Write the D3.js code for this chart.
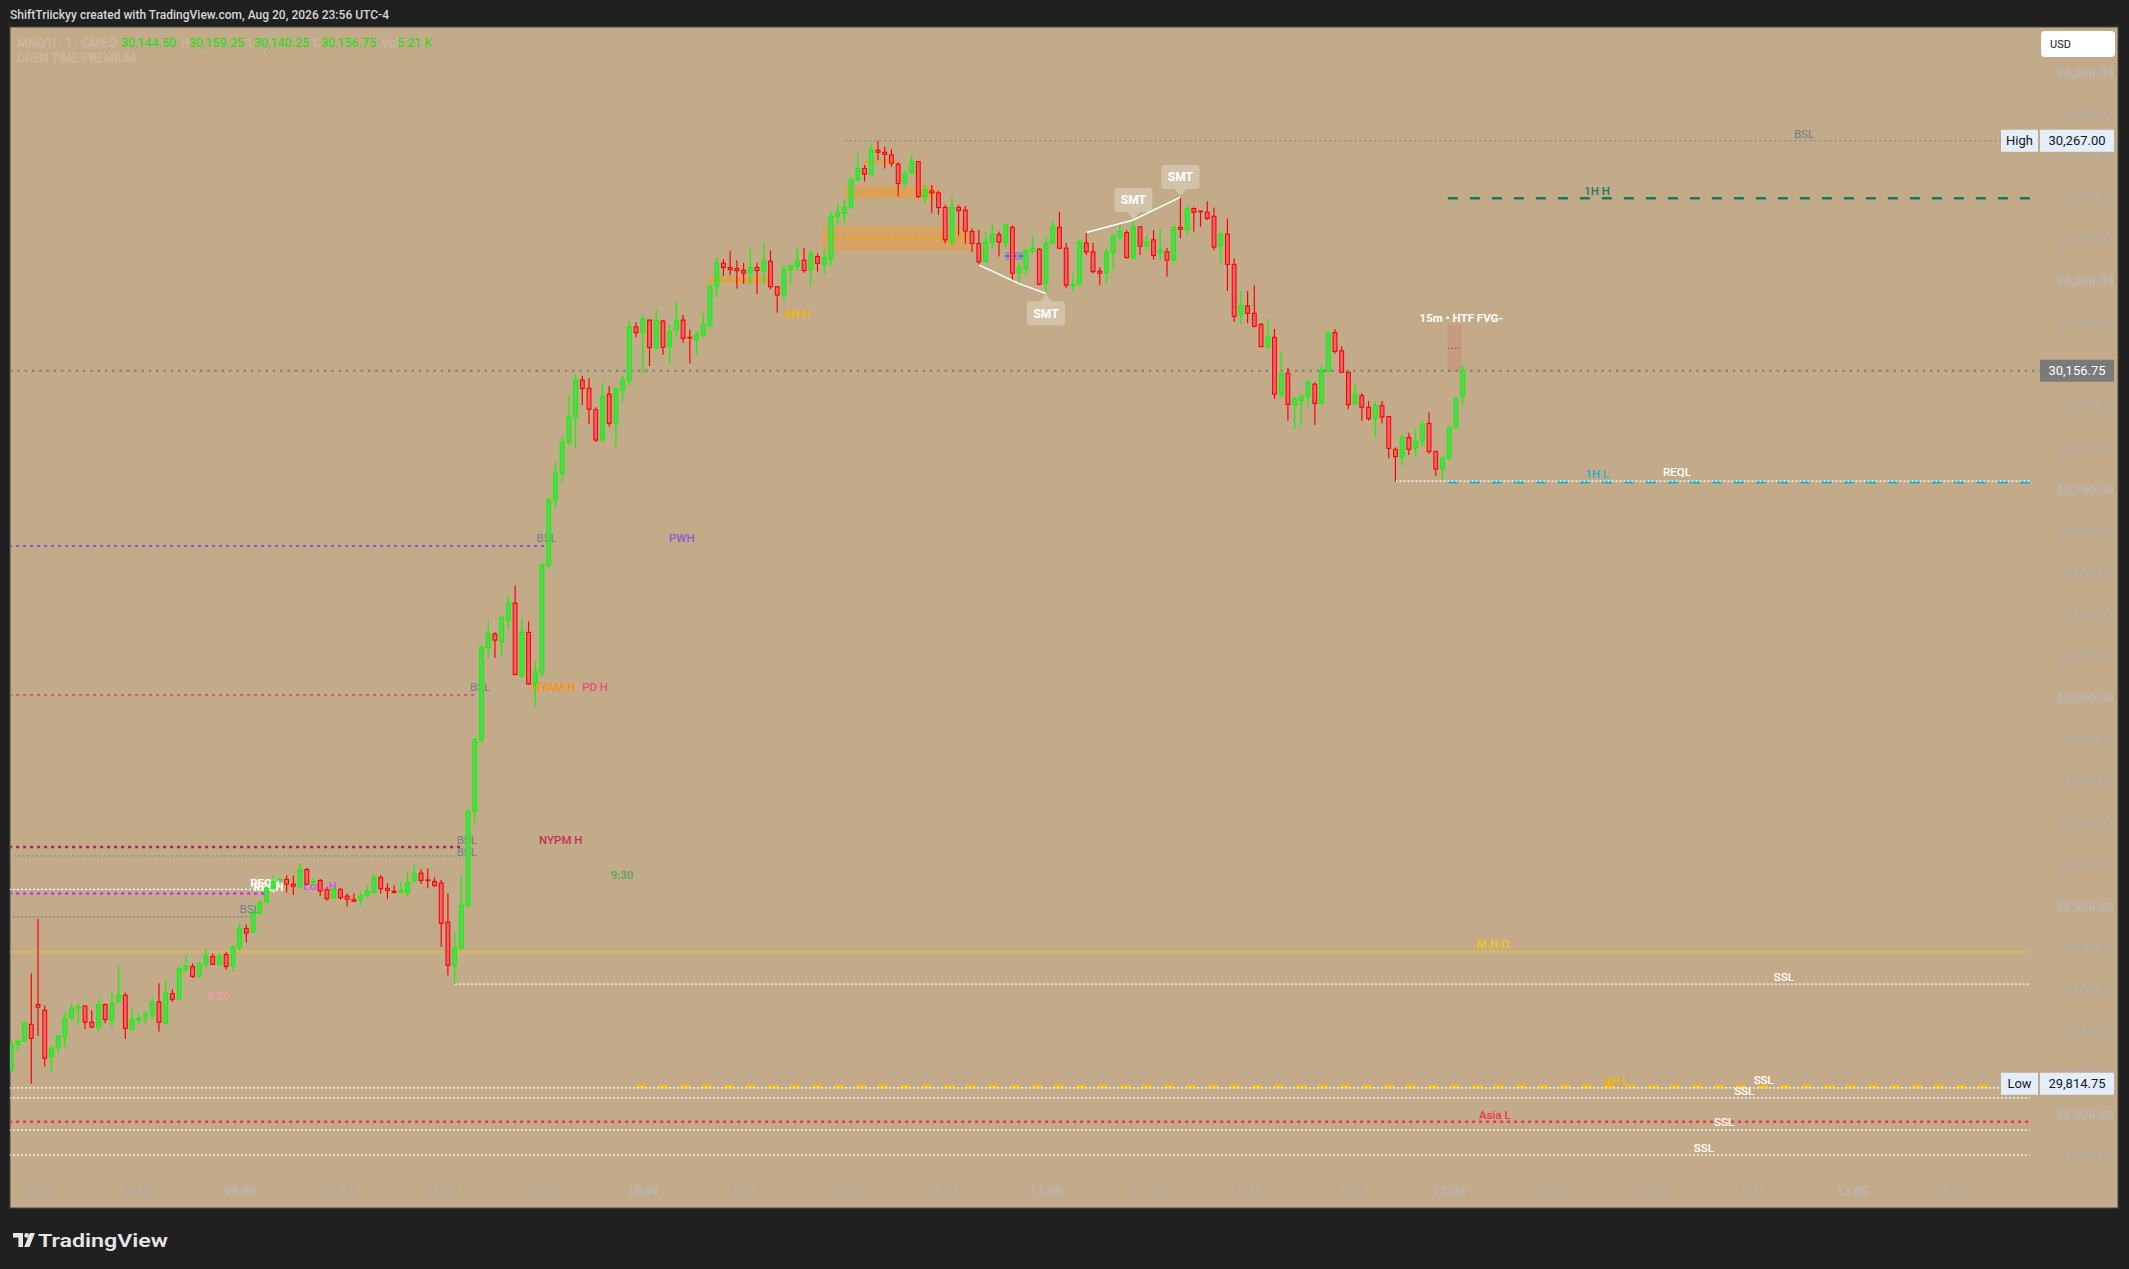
<!DOCTYPE html>
<html><head><meta charset="utf-8">
<script src="https://cdn.jsdelivr.net/npm/d3@7"></script>
<style>html,body{margin:0;padding:0;background:#202020;overflow:hidden}</style>
</head><body>
<svg id="c" width="2129" height="1269"></svg>
<script>
// ---------- DATA ----------
// 1-minute candles, first candle = 08:26 (minute -4 relative to 08:30)
const firstMinute = -4;
const opens = [
29821.25,29833.75,29835.25,29843.25,29852.75,29850,29827.75,29832.5,29837.25,29846.5,29851,29852,29844.25,29841.75,
29852.75,29845,29854.25,29857.25,29840.75,29845.25,29847,29848,29854,29843.75,
29858,29855.25,29870,29871,29866.25,29872,29875.75,29872,29876.75,29871.5,
29880.25,29889.25,29887.5,29896.75,29902,29908.5,29912.5,29912.75,29910.5,29909,
29917.5,29911.5,29912.25,29907.75,29904.25,29908,29904.75,29903,29903,29905,
29906.5,29913.75,29908.5,29907,29906.5,29906.5,29912,29915.75,29912.5,29911.75,
29911,29892.25,29871.5,29879.75,29900.25,29945.5,29979.75,30024,30030.5,30027,
30037,30045.25,30010.5,30031.25,30006.5,30012,30063.25,30094.75,30107.5,30122.5,
30134.5,30152.25,30148.25,30138,30123.5,30145.5,30131.5,30147.5,30152.25,30177.75,
30175,30181,30167.5,30180.5,30168.25,30176.5,30181,30172.75,30171.5,30173.5,
30178.25,30197.5,30208.25,30206.25,30205.75,30205,30203.75,30206.25,30204.5,30209.25,
30197,30193,30205.25,30206.75,30209.75,30205.25,30211.5,30207.75,30210.5,30230.75,
30232.25,30235,30248.5,30253.75,30251,30262.5,30261.5,30260.25,30255.75,30246.5,
30251.5,30257,30240.25,30243,30242,30235,30219,30235,30233.75,30223.5,
30217.75,30209,30218.25,30222,30218,30225.5,30203.75,30205.75,30214,30215,
30198.5,30217.75,30225.5,30215.5,30197.5,30198.25,30218,30213.75,30204.5,30203.75,
30213.5,30220.75,30223,30211,30225.75,30216.75,30219.5,30213.5,30213.75,30210,
30225.5,30224.25,30234.5,30233.25,30232.75,30230.75,30216.5,30222.25,30207.75,30183.5,
30187.75,30184.25,30179,30168.25,30172.75,30145.5,30155.5,30140.5,30142.5,30144.25,
30150.25,30141,30156.5,30175,30166.25,30156,30141,30144.75,30139.25,30134,
30140,30134.75,30119,30115.25,30124.75,30119.5,30122.75,30131.5,30118,30109.5,
30114.75,30129.5,30144.5];
const highs = [
29835.75,29836,29844.5,29867.75,29893.75,29852.25,29832.75,29838,29849.25,29853.75,29853.25,29852.25,29850,29855.75,
29853.25,29858.75,29871.5,29858.5,29851,29848.5,29849.75,29856.25,29863,29864.5,
29860,29871,29876.75,29872.5,29873.25,29879.5,29877.25,29877.25,29878,29881.25,
29891.75,29891,29898,29902.5,29909.5,29914.5,29913.5,29914.75,29914.5,29920.5,
29918.25,29913.75,29913,29909.25,29909.25,29908.75,29906,29906,29906.5,29910,
29915.25,29914.75,29911,29910,29911.75,29916.5,29920,29917.5,29918,29913.75,
29912.5,29906,29887.75,29914.5,29946.5,29980.75,30025,30036.5,30031.25,30039.25,
30049,30053.75,30037.75,30036.5,30017.5,30064.5,30095.75,30113,30125.5,30145.25,
30155.25,30154.25,30153.25,30139.25,30151.25,30149.25,30149.25,30154.25,30180.75,30180,
30183.5,30181.25,30186,30181,30179,30189.75,30183.5,30176.5,30175.5,30184.5,
30197.75,30211,30210.25,30214.25,30209.75,30208.5,30215.5,30208.5,30218.5,30214.5,
30197.25,30207.5,30207.5,30215.75,30215.5,30214.5,30213,30214.5,30233.25,30237.25,
30239,30249.5,30261,30255.5,30265.75,30267,30264.25,30263,30256.75,30253,
30260.25,30257.25,30245.75,30245.75,30243,30236.25,30240.25,30236.25,30235.75,30225,
30224.25,30223.5,30227.5,30223.5,30227.5,30226.5,30208.25,30215,30221.25,30215.5,
30221.25,30229,30233,30218,30203.5,30219.5,30223,30218,30206.5,30215.5,
30222.5,30227.5,30224.25,30229,30226,30221.75,30224.25,30225,30215.75,30226,
30240,30236.25,30235,30233.5,30238,30235,30223.5,30229.75,30210.5,30195,
30195,30197.75,30179.5,30181.5,30176.75,30166,30158,30144.25,30145,30152.25,
30151.25,30159.25,30175.5,30176.75,30168.5,30156.25,30150.25,30146,30142.25,30142,
30142.25,30135,30120,30126,30127,30128.25,30132.75,30136.75,30118,30115.75,
30130,30143.75,30159.25];
const lows = [
29821,29830.5,29835,29814.75,29837.75,29823,29820.25,29829.25,29832.25,29845.25,29843.25,29841,29841.25,29840,
29843.75,29841.75,29854,29836.25,29840.25,29843,29843.5,29845.25,29839.75,29843.5,
29854,29855,29868,29865.5,29866,29870.5,29871.75,29871,29869.5,29868.5,
29878.5,29882.5,29887,29895.75,29901.5,29907.75,29911,29906.5,29905.25,29908.5,
29910,29910,29904.75,29902.5,29903.5,29903,29899.75,29902,29900.25,29904.25,
29906,29906,29903.25,29906,29906.5,29904.5,29911.75,29910.5,29908.5,29909.25,
29880.5,29866.75,29862.5,29879.5,29899.5,29940,29978,30019,30019,30020,
30032.5,30011,30009,30006,29995.5,30010,30062.5,30090.75,30103.25,30121,
30119,30140.25,30131,30122.5,30122.5,30130,30120,30141.75,30150,30172.75,
30155.5,30159,30167.25,30164.25,30159.75,30173,30170,30160.25,30164.25,30173,
30178,30191.75,30202.25,30202.5,30196,30198.5,30198.25,30193.5,30198.5,30195.75,
30184.5,30190.25,30198.5,30204.75,30203.75,30197.5,30204.25,30203,30207,30226.5,
30227.5,30234.5,30247.5,30247.5,30250.5,30257.75,30253.75,30254.5,30240.25,30245,
30251,30239.5,30237,30232.25,30231.5,30217.75,30216.5,30221.75,30217.75,30213.75,
30207.5,30208.5,30215.5,30211.5,30215.5,30200.25,30198.5,30202.5,30213,30197.75,
30193.75,30217.5,30215,30196.25,30194.75,30197.75,30212.25,30203.5,30197.75,30198.5,
30205,30219.5,30210.5,30210,30212.25,30214.5,30210,30209.75,30201.75,30208,
30220.25,30221.75,30223.5,30225.75,30229,30214.5,30208.25,30195,30180.25,30178.75,
30179.5,30177.5,30168.25,30167.5,30143.25,30143.75,30132.75,30128.5,30130.5,30139.5,
30130.75,30141,30156.25,30165,30155.75,30138.25,30140.5,30132.75,30132.75,30125,
30131.5,30114.75,30103.5,30111,30116.25,30115.25,30120.25,30116.75,30106.25,30104.5,
30114,30128.75,30140.25];
const closes = [
29833.25,29835,29843.75,29836.5,29851.5,29827,29831.75,29837.75,29846,29851,29851.5,29844.25,29842,29852.75,
29845.5,29853.25,29857.25,29841.25,29845.5,29846,29848.25,29853.75,29844.25,29858,
29855.25,29870,29871.25,29866.25,29872.25,29875.75,29872,29875.75,29871,29880.25,
29889.25,29887,29896.5,29901.5,29908.5,29911.75,29912.75,29910.5,29909.5,29917.5,
29910.5,29911.75,29907.25,29903.5,29908,29904,29903.25,29902.25,29904.75,29907,
29913.75,29908.25,29907.5,29906.5,29907.5,29911.25,29915.25,29912.25,29912.25,29909.75,
29891.75,29871.5,29879.75,29900.25,29945.5,29979.75,30024,30030.5,30027.5,30038.25,
30045.25,30011,30031.25,30006.5,30012.5,30063.5,30094.75,30107.5,30122.5,30134.5,
30152.25,30148.25,30138.25,30123.5,30144.5,30131.5,30147.75,30152.25,30177.5,30175,
30181.5,30167.75,30181,30168,30175.5,30181,30172.25,30172.5,30174,30179,
30197.5,30208.25,30206.25,30205.25,30204.75,30203.5,30206.25,30204.75,30209,30197,
30193,30205.25,30207,30209.75,30204.75,30212.5,30208.25,30211,30230.75,30232.5,
30235,30248.5,30253.75,30251,30262.5,30261.5,30260.5,30256.25,30246.5,30251,
30257,30240.25,30243.5,30242,30235,30219.5,30235,30233.5,30223.75,30217.75,
30209,30218.5,30222,30218.5,30226.5,30203.5,30206.25,30214.5,30215.5,30198.25,
30217.75,30225.75,30215.5,30197.75,30198,30218.5,30213.75,30204.25,30203.5,30213.5,
30221.25,30223.5,30211,30225.75,30216.5,30218.5,30212,30214.5,30209.75,30225.5,
30224.5,30234.5,30232.75,30233,30229.75,30216,30222.25,30207.75,30182.75,30187.75,
30184.25,30178,30168.25,30172.75,30145.5,30155,30140.5,30143,30144.5,30151.25,
30141,30157,30174.75,30166,30156,30140.5,30145.5,30139.25,30133.75,30140,
30134.5,30119.5,30115.5,30124.75,30119,30122.75,30131,30118,30109.5,30114.75,
30129.5,30143.5,30156.75];

// axis ticks
const priceTicks = [29780,29800,29820,29840,29860,29880,29900,29920,29940,29960,29980,30000,30020,30040,30060,30080,30100,30120,30140,30160,30180,30200,30220,30240,30260,30280,30300];
const timeTickMinutes = [0,15,30,45,60,75,90,105,120,135,150,165,180,195,210,225,240,255,270,285];
const timeTickLabels = ["08:30","08:45","09:00","09:15","09:30","09:45","10:00","10:15","10:30","10:45","11:00","11:15","11:30","11:45","12:00","12:15","12:30","12:45","13:00","13:15"];

// horizontal levels (minutes relative to 08:30)
const levelKeys   = ["bslHigh","h1High","h1Low","reql","pwh","pdh","nypmh","bslA","reqh","lonh","bslB","mno","sslA","h4Low","sslB","sslC","asiaL","sslD","sslE"];
const levelPrices = [30267,30239.5,30103.25,30103.75,30072.75,30001.25,29928.25,29924,29908,29906,29894.75,29878,29862.5,29813.25,29812.75,29808,29796.5,29792.5,29780.5];
const levelStart  = [120,209.8,209.8,202,-4.3,-4.3,-4.3,-4.3,-4.3,-4.3,-4.3,-4.3,62,89,-4.3,-4.3,-4.3,-4.3,-4.3];
const levelEnd    = [296.4,296.4,296.4,296.4,75.4,65.5,63,63,34.5,34,31.5,296.4,296.4,291,296.4,296.4,296.4,296.4,296.4];

// zones
const zoneKeys   = ["ob","ob","ob","ob","htf","blue"];
const zoneStart  = [99.8,116.8,120.1,123,209.8,143.9];
const zoneEnd    = [108.6,138.8,133.8,128,211.9,146.6];
const zoneTop    = [30202,30226,30245.75,30257.5,30178.75,30213.75];
const zoneBottom = [30198.5,30214.25,30239,30256.25,30156.25,30209.75];

// text labels
const labelTexts   = ["BSL","1H H","1H L","REQL","15m • HTF FVG-","4H H","PWH","BSL","BSL","NYAM H","PD H","NYPM H","BSL","BSL","9:30","REQH","REQH","Lon. H","BSL","8:30","M.N.O.","SSL","4H L","SSL","SSL","Asia L","SSL","SSL"];
const labelKeys    = ["bsl","h1High","h1Low","white","whiteB","h4","pwh","bsl","bsl","nyam","pdh","nypm","bsl","bsl","t930","whiteB","whiteB","lon","bsl","t830","mno","white","h4","white","white","asia","white","white"];
const labelMinutes = [262.8,232,232,243.9,211.8,112.9,95.8,75.7,65.8,76.8,82.9,77.8,63.8,63.8,86.9,33.8,34.3,42,31.5,26.8,216.7,259.8,234.8,256.8,253.9,216.8,250.9,247.9];
const labelPrices  = [30270.3,30242.9,30107.2,30108,30182,30184,30076.5,30076.5,30005,30005,30005,29931.6,29931.6,29926,29914.9,29911,29909,29909.6,29898.6,29856.8,29881.8,29865.9,29816.1,29816.5,29811.3,29800,29796.4,29783.9];

// SMT divergences (candle minutes)
const smtLowMinutes  = [140,146,150];
const smtHighMinutes = [156,163,170];

// ---------- DRAW ----------
const W = 2129, H = 1269;
const FONT = "Roboto, 'Liberation Sans', Arial, sans-serif";
const svg = d3.select("#c");
const x = d3.scaleLinear().domain([0, 285]).range([38, 38 + 285 * 6.72]);
const y = d3.scaleLinear().domain([29780, 30300]).range([1156.2, 72]);
const idx = i => firstMinute + i;
const candles = opens.map((o, i) => ({m: idx(i), o, h: highs[i], l: lows[i], c: closes[i]}));

svg.append("rect").attr("width", W).attr("height", H).attr("fill", "#202020");
svg.append("rect").attr("x", 10).attr("y", 27).attr("width", 2108).attr("height", 1181)
  .attr("fill", "#c3ab8a").attr("stroke", "#4a4a4a").attr("stroke-width", 1);

svg.append("defs").append("clipPath").attr("id", "pc")
  .append("rect").attr("x", 10).attr("y", 27).attr("width", 2108).attr("height", 1181);
const plot = svg.append("g").attr("clip-path", "url(#pc)");

// header
svg.append("text").attr("x", 10).attr("y", 14).attr("dominant-baseline", "central")
  .attr("fill", "#d6d6d6").attr("font-family", FONT).attr("font-size", 13).attr("font-weight", 500)
  .attr("textLength", 379).attr("lengthAdjust", "spacingAndGlyphs")
  .text("ShiftTriickyy created with TradingView.com, Aug 20, 2026 23:56 UTC-4");

// legend
const faded = "#cdbca4";
const leg = [
  {t: "MNQ1! · 1 · CME", x: 17, c: faded},
  {t: "O", x: 109, c: faded}, {t: "30,144.50", x: 121, c: "#12e012"},
  {t: "H", x: 181, c: faded}, {t: "30,159.25", x: 189, c: "#12e012"},
  {t: "L", x: 248, c: faded}, {t: "30,140.25", x: 254, c: "#12e012"},
  {t: "C", x: 313, c: faded}, {t: "30,156.75", x: 321, c: "#12e012"},
  {t: "Vol", x: 381, c: faded}, {t: "5.21 K", x: 397, c: "#12e012"}
];
leg.forEach(d => svg.append("text").attr("x", d.x).attr("y", 42).attr("dominant-baseline", "central")
  .attr("font-family", FONT).attr("font-size", 12.5).attr("fill", d.c).text(d.t));
svg.append("text").attr("x", 17).attr("y", 58).attr("dominant-baseline", "central")
  .attr("font-family", FONT).attr("font-size", 12).attr("fill", faded).text("DGEN TIME PREMIUM");

// zones
const zoneStyle = {
  ob:   {fill: "rgba(255,150,20,0.33)", mid: "#ff9800", dash: "5,4", w: 1.5},
  htf:  {fill: "rgba(215,95,95,0.22)",  mid: "#6e5a7a", dash: "1.5,2", w: 1},
  blue: {fill: "rgba(95,115,215,0.38)", mid: "#2962ff", dash: "4,3", w: 1.5}
};
zoneKeys.forEach((k, i) => {
  const s = zoneStyle[k];
  plot.append("rect").attr("x", x(zoneStart[i])).attr("width", x(zoneEnd[i]) - x(zoneStart[i]))
    .attr("y", y(zoneTop[i])).attr("height", y(zoneBottom[i]) - y(zoneTop[i])).attr("fill", s.fill);
  const ym = y((zoneTop[i] + zoneBottom[i]) / 2);
  plot.append("line").attr("x1", x(zoneStart[i])).attr("x2", x(zoneEnd[i])).attr("y1", ym).attr("y2", ym)
    .attr("stroke", s.mid).attr("stroke-width", s.w).attr("stroke-dasharray", s.dash);
});

// levels
const levelStyle = {
  bslHigh: {c: "#6f7fa3", w: 1, d: "2,3"},
  h1High:  {c: "#167a66", w: 2.5, d: "10,12"},
  h1Low:   {c: "#10b6d0", w: 2.5, d: "10,12"},
  reql:    {c: "#ffffff", w: 1.2, d: "2,2"},
  pwh:     {c: "#7650d8", w: 1.8, d: "3,4"},
  pdh:     {c: "#e0457b", w: 1.8, d: "3,4"},
  nypmh:   {c: "#c2185b", w: 2.5, d: "3,4"},
  bslA:    {c: "#6f7fa3", w: 1, d: "2,2.5"},
  reqh:    {c: "#ffffff", w: 1.2, d: "2,2"},
  lonh:    {c: "#cc2bff", w: 2.5, d: "3,4"},
  bslB:    {c: "#707880", w: 1, d: "2,2"},
  mno:     {c: "#ffd600", w: 1.2, d: "2,2"},
  sslA:    {c: "#ffffff", w: 1.2, d: "2,2"},
  h4Low:   {c: "#ffbf00", w: 3, d: "10,12"},
  sslB:    {c: "#ffffff", w: 1.2, d: "2,2"},
  sslC:    {c: "#ffffff", w: 1.2, d: "2,2"},
  asiaL:   {c: "#f23645", w: 2.5, d: "3,4"},
  sslD:    {c: "#ffffff", w: 1.2, d: "2,2"},
  sslE:    {c: "#ffffff", w: 1.2, d: "2,2"}
};
levelKeys.forEach((k, i) => {
  const s = levelStyle[k];
  const yy = y(levelPrices[i]);
  plot.append("line").attr("x1", x(levelStart[i])).attr("x2", x(levelEnd[i])).attr("y1", yy).attr("y2", yy)
    .attr("stroke", s.c).attr("stroke-width", s.w).attr("stroke-dasharray", s.d);
});
// last price line
const lastClose = closes[closes.length - 1];
plot.append("line").attr("x1", 10).attr("x2", 2040).attr("y1", y(lastClose)).attr("y2", y(lastClose))
  .attr("stroke", "#7e7e7e").attr("stroke-width", 2).attr("stroke-dasharray", "2.5,4.8");

// labels
const labelStyle = {
  bsl: {c: "#6f7c92", b: 400}, h1High: {c: "#177a64", b: 500}, h1Low: {c: "#19b4cf", b: 500},
  white: {c: "#ffffff", b: 500}, whiteB: {c: "#ffffff", b: 700}, h4: {c: "#f7b500", b: 600},
  pwh: {c: "#8c5ccf", b: 500}, nyam: {c: "#ff9100", b: 500}, pdh: {c: "#e64d78", b: 500},
  nypm: {c: "#c0305c", b: 500}, t930: {c: "#56a656", b: 500}, lon: {c: "#cc55e6", b: 500},
  t830: {c: "#e89ea6", b: 500}, mno: {c: "#f2c21b", b: 600}, asia: {c: "#f23645", b: 500}
};
labelTexts.forEach((t, i) => {
  const s = labelStyle[labelKeys[i]];
  plot.append("text").attr("x", x(labelMinutes[i])).attr("y", y(labelPrices[i]))
    .attr("text-anchor", "middle").attr("dominant-baseline", "central")
    .attr("font-family", FONT).attr("font-size", 11.5).attr("font-weight", s.b).attr("fill", s.c).text(t);
});

// candles
const UP = "#00ff00", DN = "#ff0000", UPF = "#66cc5a", DNF = "#f2636b";
const cg = plot.append("g");
cg.selectAll("line.w").data(candles).join("line")
  .attr("x1", d => x(d.m)).attr("x2", d => x(d.m)).attr("y1", d => y(d.h)).attr("y2", d => y(d.l))
  .attr("stroke", d => d.c >= d.o ? UP : DN).attr("stroke-width", 1.2);
cg.selectAll("rect.b").data(candles).join("rect")
  .attr("x", d => x(d.m) - 1.9).attr("width", 3.8)
  .attr("y", d => y(Math.max(d.o, d.c)))
  .attr("height", d => Math.max(0.6, Math.abs(y(d.o) - y(d.c))))
  .attr("fill", d => d.c >= d.o ? UPF : DNF)
  .attr("stroke", d => d.c >= d.o ? UP : DN).attr("stroke-width", 1.1);

// SMT lines + labels
const line = d3.line().x(d => x(d[0])).y(d => y(d[1]));
const lowPts = smtLowMinutes.map(m => [m, lows[m - firstMinute]]);
const highPts = smtHighMinutes.map(m => [m, highs[m - firstMinute]]);
plot.append("path").attr("d", line(lowPts)).attr("fill", "none").attr("stroke", "#ffffff").attr("stroke-width", 1.5);
plot.append("path").attr("d", line(highPts)).attr("fill", "none").attr("stroke", "#ffffff").attr("stroke-width", 1.5);
function smtLabel(m, p, below) {
  const cx = x(m), ty = y(p);
  const g = plot.append("g");
  const bw = 38, bh = 24, tri = 8;
  const by = below ? ty + tri : ty - tri - bh;
  const fill = "rgba(255,255,255,0.28)";
  g.append("rect").attr("x", cx - bw / 2).attr("y", by).attr("width", bw).attr("height", bh).attr("rx", 3).attr("fill", fill);
  const tp = below ? [[cx, ty + 1], [cx - 6, ty + tri], [cx + 6, ty + tri]] : [[cx, ty - 1], [cx - 6, ty - tri], [cx + 6, ty - tri]];
  g.append("path").attr("d", "M" + tp.map(q => q.join(",")).join("L") + "Z").attr("fill", fill);
  g.append("text").attr("x", cx).attr("y", by + bh / 2).attr("text-anchor", "middle").attr("dominant-baseline", "central")
    .attr("font-family", FONT).attr("font-size", 12).attr("font-weight", 700).attr("fill", "#ffffff").text("SMT");
}
smtLabel(lowPts[2][0], lowPts[2][1], true);
smtLabel(highPts[1][0], highPts[1][1], false);
smtLabel(highPts[2][0], highPts[2][1], false);

// price axis
const pa = svg.append("g").attr("transform", "translate(2114,0)")
  .call(d3.axisLeft(y).tickValues(priceTicks).tickSize(0).tickPadding(0).tickFormat(d3.format(",.2f")));
pa.select(".domain").remove();
pa.selectAll("text").attr("font-family", FONT).attr("font-size", 12.5)
  .attr("fill", d => d % 100 === 0 ? "#b9b6b3" : "#b0aca6")
  .attr("font-weight", d => d % 100 === 0 ? 700 : 400);

// time axis
const ta = svg.append("g").attr("transform", "translate(0,1186)")
  .call(d3.axisBottom(x).tickValues(timeTickMinutes).tickSize(0).tickPadding(0).tickFormat((d, i) => timeTickLabels[i]));
ta.select(".domain").remove();
ta.selectAll("text").attr("font-family", FONT).attr("font-size", 12.5)
  .attr("fill", (d, i) => timeTickLabels[i].endsWith(":00") ? "#b9b6b3" : "#b0aca6")
  .attr("font-weight", (d, i) => timeTickLabels[i].endsWith(":00") ? 700 : 400);

// USD box
svg.append("rect").attr("x", 2041).attr("y", 31).attr("width", 74).attr("height", 26).attr("rx", 4).attr("fill", "#ffffff");
svg.append("text").attr("x", 2050).attr("y", 44).attr("dominant-baseline", "central").attr("font-family", FONT)
  .attr("font-size", 11).attr("fill", "#131722").text("USD");

// High / Low / Last badges
const hi = d3.max(highs), lo = d3.min(lows);
function badge(label, val, bg, fg) {
  const yy = y(val);
  if (label) {
    svg.append("rect").attr("x", 2001).attr("y", yy - 11).attr("width", 37).attr("height", 22).attr("fill", bg);
    svg.append("text").attr("x", 2019.5).attr("y", yy).attr("text-anchor", "middle").attr("dominant-baseline", "central")
      .attr("font-family", FONT).attr("font-size", 13).attr("fill", fg).text(label);
  }
  svg.append("rect").attr("x", 2040).attr("y", yy - 11).attr("width", 74).attr("height", 22).attr("fill", bg);
  svg.append("text").attr("x", 2077).attr("y", yy).attr("text-anchor", "middle").attr("dominant-baseline", "central")
    .attr("font-family", FONT).attr("font-size", 13).attr("fill", fg).text(d3.format(",.2f")(val));
}
badge("High", hi, "#e3eefa", "#131722");
badge("Low", lo, "#e3eefa", "#131722");
badge(null, lastClose, "#7a7a7a", "#ffffff");

// TradingView logo
const lg = svg.append("g").attr("fill", "#e6e6e6");
lg.append("path").attr("d", "M13,1233 h10 v14 h-4.6 v-9.4 h-5.4 z");
lg.append("circle").attr("cx", 26.6).attr("cy", 1235.4).attr("r", 2.3);
lg.append("path").attr("d", "M29.8,1233 h5.2 l-5.6,14 h-5.2 z");
svg.append("text").attr("x", 38).attr("y", 1240).attr("dominant-baseline", "central")
  .attr("font-family", FONT).attr("font-size", 19).attr("font-weight", 600).attr("fill", "#e6e6e6")
  .attr("textLength", 130).attr("lengthAdjust", "spacingAndGlyphs").text("TradingView");
</script>
</body></html>
